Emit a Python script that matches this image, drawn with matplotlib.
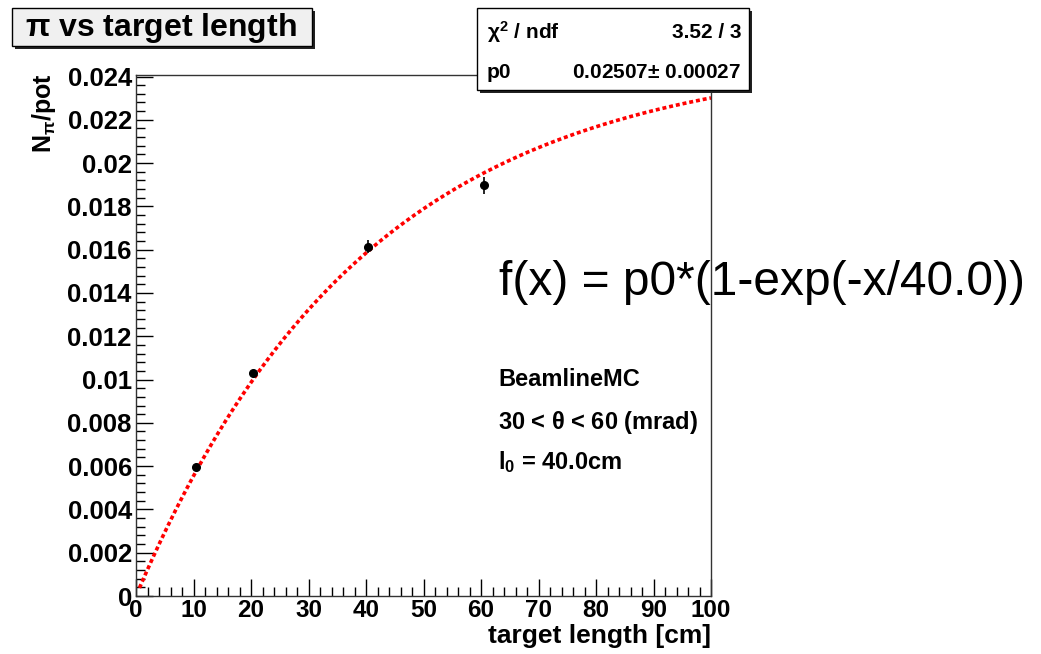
import numpy as np
import matplotlib
matplotlib.use("Agg")
import matplotlib.pyplot as plt
from matplotlib.patches import Rectangle
from matplotlib.ticker import MultipleLocator, FuncFormatter

# data
target_len = [10.4, 20.4, 40.4, 60.5]           # cm
n_pi_per_pot = [0.00595, 0.01028, 0.01613, 0.01898]
n_pi_err = [0.00015, 0.00018, 0.00030, 0.00040]

# fit result shown in the stats box
p0 = 0.02507
p0_err = 0.00027
l0 = 40.0
chi2, ndf = 3.52, 3

W, H = 1041, 654
plt.rcParams['font.family'] = ['Liberation Sans', 'DejaVu Sans']
plt.rcParams['mathtext.default'] = 'regular'

fig = plt.figure(figsize=(W / 100, H / 100), dpi=100)


def fx(px):
    return px / W


def fy(py):
    return 1 - py / H


# axes frame in pixels: left 136, right 711, top 75, bottom 596
ax = fig.add_axes([fx(136), fy(596), fx(711) - fx(136), fy(75) - fy(596)])

# fitted function p0*(1-exp(-x/l0))
xf = np.linspace(0.6, 100, 400)
ax.plot(xf, p0 * (1 - np.exp(-xf / l0)), color='red', lw=2.6,
        linestyle=(0, (1.1, 0.8)), zorder=2)
ax.errorbar(target_len, n_pi_per_pot, yerr=n_pi_err, fmt='o', color='black',
            ms=5.5, elinewidth=1.2, capsize=0, zorder=3)

ax.set_xlim(0, 100)
ax.set_ylim(0, 0.02407)
ax.xaxis.set_major_locator(MultipleLocator(10))
ax.xaxis.set_minor_locator(MultipleLocator(2))
ax.yaxis.set_major_locator(MultipleLocator(0.002))
ax.yaxis.set_minor_locator(MultipleLocator(0.0004))
ax.yaxis.set_major_formatter(FuncFormatter(lambda v, p: '0' if abs(v) < 1e-9 else f'{v:.3f}'.rstrip('0')))
ax.tick_params(which='major', direction='in', length=12, width=1.0, color='black')
ax.tick_params(axis='y', labelsize=18.5, pad=3)
ax.tick_params(axis='x', labelsize=17.5, pad=2)
ax.tick_params(which='minor', direction='in', length=6.5, width=1.0, color='black')
ax.tick_params(top=False, right=False, which='both')
for lab in ax.get_xticklabels() + ax.get_yticklabels():
    lab.set_fontweight('bold')
for sp in ax.spines.values():
    sp.set_linewidth(1.0)
    sp.set_color('#333333')

# axis titles
ax.text(-0.16, 1.004, r'N$_{\pi}$/pot', transform=ax.transAxes, rotation=90,
        ha='center', va='top', fontsize=18, fontweight='bold')
ax.text(1.0, -0.077, 'target length [cm]', transform=ax.transAxes,
        ha='right', va='center', fontsize=19, fontweight='bold')

# fit formula and notes
fig.text(fx(499), fy(282), 'f(x) = p0*(1-exp(-x/40.0))', ha='left', va='center',
         fontsize=34.5)
fig.text(fx(498), fy(380), 'BeamlineMC', ha='left', va='center',
         fontsize=17, fontweight='bold')
fig.text(fx(498), fy(422), r'30 < $\theta$ < 60 (mrad)', ha='left', va='center',
         fontsize=17, fontweight='bold')
fig.text(fx(498), fy(462), r'l$_0$ = 40.0cm', ha='left', va='center',
         fontsize=17, fontweight='bold')


def box(x0, y0, x1, y1, face):
    # shadow then box, pixel coords
    fig.add_artist(Rectangle((fx(x0 + 3), fy(y1 + 3)), fx(x1 - x0), fy(y0) - fy(y1),
                             facecolor='#222222', edgecolor='none', transform=fig.transFigure))
    fig.add_artist(Rectangle((fx(x0), fy(y1)), fx(x1 - x0), fy(y0) - fy(y1),
                             facecolor=face, edgecolor='black', lw=1.0, transform=fig.transFigure))


# title box
box(12, 8, 312, 46, '#f0f0f0')
fig.text(fx(161), fy(28), r'$\pi$ vs target length', ha='center', va='center',
         fontsize=23, fontweight='bold')

# stats box
box(477, 8, 749, 90, 'white')
fig.text(fx(487), fy(32), r'$\chi^2$ / ndf', ha='left', va='center', fontsize=15, fontweight='bold')
fig.text(fx(741), fy(32), f'{chi2:.2f} / {ndf}', ha='right', va='center', fontsize=15, fontweight='bold')
fig.text(fx(487), fy(72), 'p0', ha='left', va='center', fontsize=15, fontweight='bold')
fig.text(fx(741), fy(72), f'{p0:.5f}$\\pm$ {p0_err:.5f}', ha='right', va='center',
         fontsize=15, fontweight='bold')

fig.savefig('out.png', dpi=100, facecolor='white')
